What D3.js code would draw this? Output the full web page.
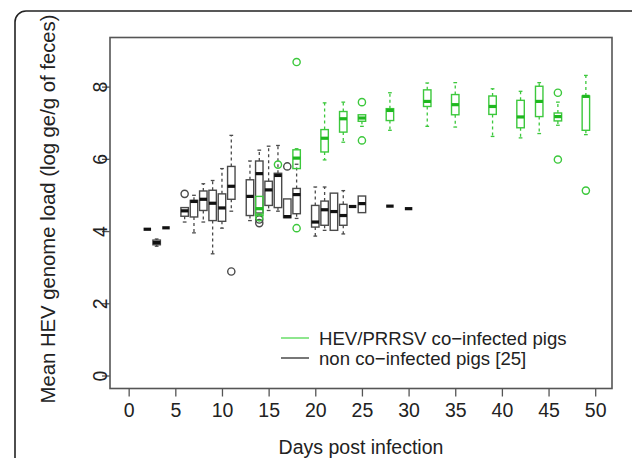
<!DOCTYPE html>
<html>
<head>
<meta charset="utf-8">
<script src="https://cdn.jsdelivr.net/npm/d3@7"></script>
<style>
  html, body { margin: 0; padding: 0; background: #fff; }
  svg text { font-family: "Liberation Sans", Arial, Helvetica, sans-serif; fill: #222; }
</style>
</head>
<body>
<svg id="chart" width="632" height="458"></svg>
<script>
// ---- data ----
const xTicks = [0, 5, 10, 15, 20, 25, 30, 35, 40, 45, 50];
const yTicks = [0, 2, 4, 6, 8];

// non co-infected pigs [25] (black boxes)
const nonDays = [2, 3, 4, 6, 7, 8, 9, 10, 11, 13, 14, 15, 16, 17, 18, 20, 21, 22, 23, 24, 25, 28, 30];
const nonLow  = [4.05, 3.58, 4.09, 4.25, 3.95, 4.25, 3.37, 4.08, 4.55, 4.29, 4.45, 4.57, 4.55, 4.37, 4.35, 3.86, 4.02, 4.02, 3.92, 4.68, 4.51, 4.69, 4.62];
const nonQ1   = [4.05, 3.62, 4.09, 4.41, 4.39, 4.57, 4.29, 4.27, 4.88, 4.43, 4.50, 4.71, 4.65, 4.37, 4.48, 4.11, 4.16, 4.02, 4.16, 4.68, 4.51, 4.69, 4.62];
const nonMed  = [4.05, 3.68, 4.09, 4.56, 4.82, 4.88, 4.77, 4.64, 5.24, 4.96, 5.59, 5.14, 5.54, 4.40, 5.01, 4.25, 4.59, 4.54, 4.43, 4.68, 4.76, 4.69, 4.62];
const nonQ3   = [4.05, 3.75, 4.09, 4.65, 4.85, 5.11, 5.13, 5.03, 5.79, 5.42, 5.94, 5.38, 5.60, 4.89, 5.18, 4.71, 4.83, 5.05, 4.74, 4.68, 4.97, 4.69, 4.62];
const nonHigh = [4.05, 3.78, 4.09, 4.65, 4.99, 5.31, 5.40, 5.73, 6.65, 5.94, 6.24, 6.35, 6.37, 4.89, 5.85, 5.22, 5.22, 5.05, 5.12, 4.68, 4.97, 4.69, 4.62];
const nonOutDays = [6, 11, 14, 14, 17];
const nonOutVals = [5.03, 2.88, 4.32, 4.22, 5.79];

// HEV/PRRSV co-infected pigs (green boxes)
const coDays = [14, 18, 21, 23, 25, 28, 32, 35, 39, 42, 44, 46, 49];
const coLow  = [4.43, 5.73, 5.97, 6.46, 6.90, 6.79, 6.90, 6.88, 6.62, 6.58, 6.70, 6.93, 6.67];
const coQ1   = [4.43, 5.73, 6.19, 6.74, 7.04, 7.06, 7.45, 7.22, 7.23, 6.86, 7.17, 7.05, 6.79];
const coMed  = [4.62, 6.02, 6.57, 7.11, 7.13, 7.34, 7.59, 7.50, 7.45, 7.16, 7.59, 7.17, 7.73];
const coQ3   = [4.96, 6.25, 6.81, 7.31, 7.22, 7.39, 7.91, 7.78, 7.74, 7.62, 8.01, 7.27, 7.74];
const coHigh = [4.96, 6.28, 7.55, 7.57, 7.22, 7.83, 8.10, 8.11, 7.94, 7.87, 8.11, 7.57, 8.31];
const coOutDays = [14, 16, 18, 18, 25, 25, 46, 46, 49];
const coOutVals = [4.38, 5.84, 8.68, 4.08, 7.57, 6.51, 7.83, 5.98, 5.12];

const legendLabels = ["HEV/PRRSV co\u2212infected pigs", "non co\u2212infected pigs [25]"];

// ---- drawing ----
const svg = d3.select("#chart");
const FONT = 19.5;
const plot = { left: 110, right: 612, top: 37.5, bottom: 388.5 };

const x = d3.scaleLinear().domain([-2, 51.8]).range([plot.left, plot.right]);
const y = d3.scaleLinear().domain([-0.36, 9.36]).range([plot.bottom, plot.top]);

// outer rounded frame
svg.append("rect")
  .attr("x", 15).attr("y", 11).attr("width", 640).attr("height", 480)
  .attr("rx", 11).attr("ry", 11)
  .attr("fill", "none").attr("stroke", "#222").attr("stroke-width", 1.6);

function drawSeries(days, lo, q1, med, q3, hi, outD, outV, color, medColor) {
  const g = svg.append("g");
  const halfW = (x(0.4) - x(0));
  days.forEach((d, i) => {
    const cx = x(d);
    const bg = g.append("g");
    if (hi[i] > q3[i]) {
      bg.append("line").attr("x1", cx).attr("x2", cx).attr("y1", y(q3[i])).attr("y2", y(hi[i]))
        .attr("stroke", color).attr("stroke-width", 1.3).attr("stroke-dasharray", "3,3");
      bg.append("line").attr("x1", cx - halfW / 2).attr("x2", cx + halfW / 2).attr("y1", y(hi[i])).attr("y2", y(hi[i]))
        .attr("stroke", color).attr("stroke-width", 1.3);
    }
    if (lo[i] < q1[i]) {
      bg.append("line").attr("x1", cx).attr("x2", cx).attr("y1", y(q1[i])).attr("y2", y(lo[i]))
        .attr("stroke", color).attr("stroke-width", 1.3).attr("stroke-dasharray", "3,3");
      bg.append("line").attr("x1", cx - halfW / 2).attr("x2", cx + halfW / 2).attr("y1", y(lo[i])).attr("y2", y(lo[i]))
        .attr("stroke", color).attr("stroke-width", 1.3);
    }
    bg.append("rect")
      .attr("x", cx - halfW).attr("width", 2 * halfW)
      .attr("y", y(q3[i])).attr("height", Math.max(0, y(q1[i]) - y(q3[i])))
      .attr("fill", "none").attr("stroke", color).attr("stroke-width", 1.4);
    bg.append("line").attr("x1", cx - halfW).attr("x2", cx + halfW)
      .attr("y1", y(med[i])).attr("y2", y(med[i]))
      .attr("stroke", medColor).attr("stroke-width", 3.2);
  });
  outD.forEach((d, i) => {
    g.append("circle").attr("cx", x(d)).attr("cy", y(outV[i])).attr("r", 3.6)
      .attr("fill", "none").attr("stroke", color).attr("stroke-width", 1.4);
  });
}

drawSeries(nonDays, nonLow, nonQ1, nonMed, nonQ3, nonHigh, nonOutDays, nonOutVals, "#4a4a4a", "#111");
drawSeries(coDays, coLow, coQ1, coMed, coQ3, coHigh, coOutDays, coOutVals, "#3cc83c", "#1fb81f");

// plot box
svg.append("rect")
  .attr("x", plot.left).attr("y", plot.top)
  .attr("width", plot.right - plot.left).attr("height", plot.bottom - plot.top)
  .attr("fill", "none").attr("stroke", "#555").attr("stroke-width", 1.6);

// x axis
const xAxis = svg.append("g").attr("transform", `translate(0,${plot.bottom})`)
  .call(d3.axisBottom(x).tickValues(xTicks).tickSize(8).tickFormat(d3.format("d")));
xAxis.select(".domain").remove();
xAxis.selectAll(".tick line").attr("stroke", "#555").attr("stroke-width", 1.3);
xAxis.selectAll(".tick text").attr("y", 28.5).attr("dy", 0)
  .style("font-size", FONT + "px").style("font-family", '"Liberation Sans", Arial, sans-serif').attr("fill", "#222");

// y axis
const yAxis = svg.append("g").attr("transform", `translate(${plot.left},0)`)
  .call(d3.axisLeft(y).tickValues(yTicks).tickSize(8).tickFormat(d3.format("d")));
yAxis.select(".domain").remove();
yAxis.selectAll(".tick line").attr("stroke", "#555").attr("stroke-width", 1.3);
yAxis.selectAll(".tick text")
  .attr("transform", "rotate(-90)")
  .attr("x", 0).attr("y", -3.5).attr("dy", 0)
  .attr("text-anchor", "middle")
  .style("font-size", FONT + "px").style("font-family", '"Liberation Sans", Arial, sans-serif').attr("fill", "#222");

// axis titles
svg.append("text")
  .attr("x", (plot.left + plot.right) / 2).attr("y", 454)
  .attr("text-anchor", "middle").style("font-size", FONT + "px")
  .text("Days post infection");
svg.append("text")
  .attr("transform", `translate(55,${(plot.top + plot.bottom) / 2 - 4}) rotate(-90)`)
  .attr("text-anchor", "middle").style("font-size", "20.3px")
  .text("Mean HEV genome load (log ge/g of feces)");

// legend
const legendColors = ["#8ee68e", "#777"];
const legY = [338, 358];
legendLabels.forEach((lab, i) => {
  svg.append("line").attr("x1", 281).attr("x2", 309).attr("y1", legY[i]).attr("y2", legY[i])
    .attr("stroke", legendColors[i]).attr("stroke-width", 2);
  svg.append("text").attr("x", 319).attr("y", legY[i] + 6.5)
    .style("font-size", "18.6px").text(lab);
});
</script>
</body>
</html>
